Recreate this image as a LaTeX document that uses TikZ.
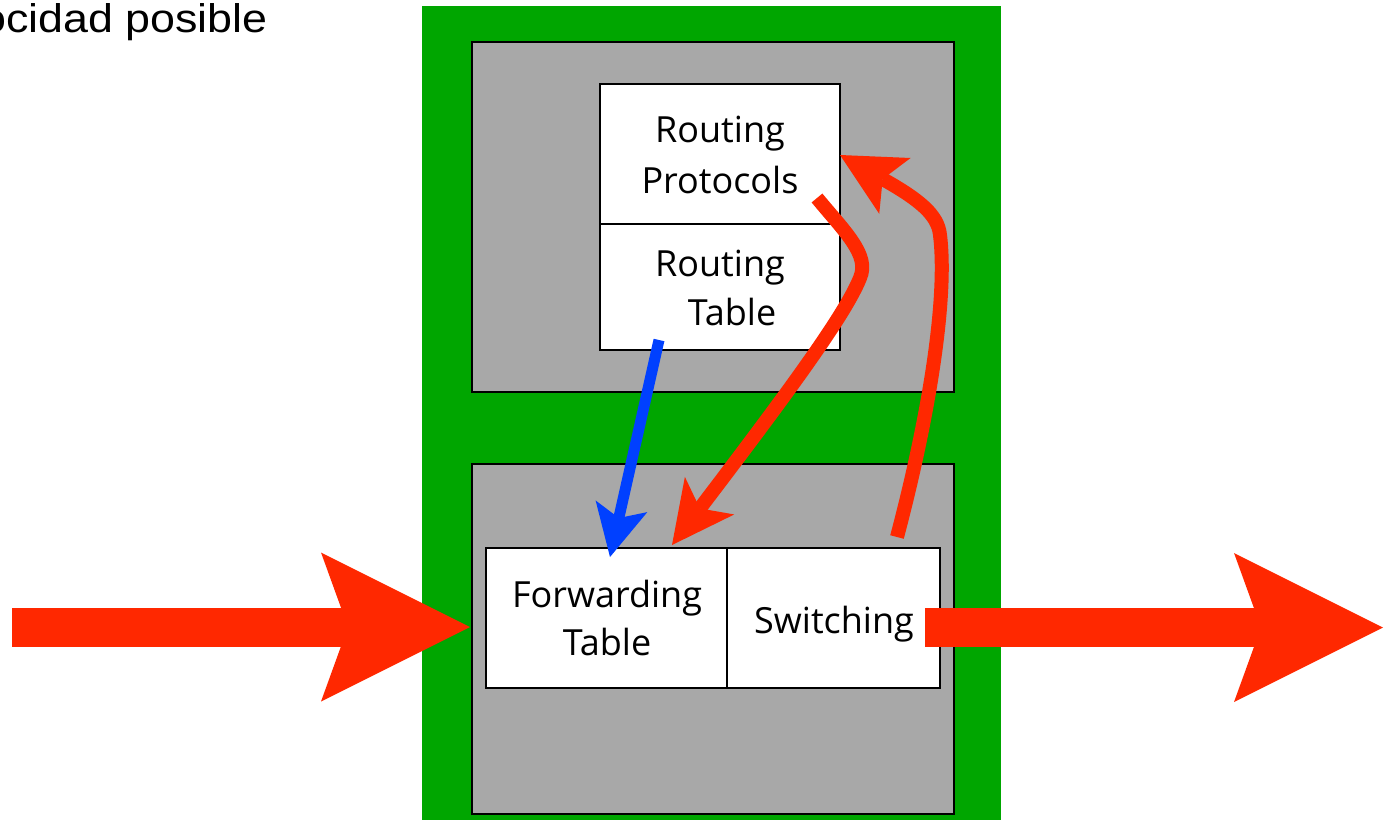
\documentclass[tikz,border=0pt]{standalone}
\usepackage{fontspec}
\setmainfont{Open Sans}
\newfontfamily\arialfont[FakeStretch=1.12]{Liberation Sans}
\usetikzlibrary{arrows.meta}
\definecolor{rred}{RGB}{255,40,0}
\definecolor{ggreen}{RGB}{0,166,0}
\definecolor{ggray}{RGB}{168,168,168}
\definecolor{bblue}{RGB}{0,64,255}
\begin{document}
\begin{tikzpicture}[x=1pt,y=-1pt,
  frame/.style={draw=black, line width=1.5pt, anchor=north west, inner sep=0pt, outer sep=0pt},
  lbl/.style={font=\fontsize{36}{43}\selectfont, anchor=base, inner sep=0pt},
  bigarrow/.style={draw=rred, line width=39pt, -{Stealth[length=149pt, width=149pt, inset=27pt, line width=0pt]}},
  redarrowA/.style={draw=rred, line width=14pt, -{Stealth[length=62pt, width=62pt, inset=16pt, line width=0pt]}},
  redarrowB/.style={draw=rred, line width=14pt, -{Stealth[length=63pt, width=64pt, inset=14pt, line width=0pt]}},
  bluearrow/.style={draw=bblue, line width=11pt, -{Stealth[length=52pt, width=53pt, inset=12pt, line width=0pt]}}]
\useasboundingbox (0,0) rectangle (1385,820);
% containers
\node[fill=ggreen, anchor=north west, minimum width=579pt, minimum height=814pt, inner sep=0pt] (green) at (422,6) {};
\node[frame, fill=ggray, minimum width=482pt, minimum height=350pt] (top) at (472,42) {};
\node[frame, fill=ggray, minimum width=482pt, minimum height=350pt] (bot) at (472,464) {};
% boxes
\node[frame, fill=white, minimum width=240pt, minimum height=140pt] (RP) at (600,84) {};
\node[frame, fill=white, minimum width=240pt, minimum height=126pt] (RT) at (600,224) {};
\node[frame, fill=white, minimum width=241pt, minimum height=140pt] (FT) at (486,548) {};
\node[frame, fill=white, minimum width=213pt, minimum height=140pt] (SW) at (727,548) {};
% labels
\node[lbl] (rp1) at (720,142) {Routing};
\node[lbl] (rp2) at (720,193) {Protocols};
\node[lbl] (rt1) at (720,276) {Routing};
\node[lbl] (rt2) at (732,325) {Table};
\node[lbl] (ft1) at (607,607) {Forwarding};
\node[lbl] (ft2) at (607,655) {Table};
\node[lbl] (sw) at (834,633) {Switching};
\node[font=\arialfont\fontsize{40}{48}\selectfont, anchor=base west, inner sep=0pt] (title) at (-19,32) {ocidad posible};
% connectors
\coordinate (inL) at (12,627);
\coordinate (tipL) at (470,627);
\coordinate (outR0) at (925,627.5);
\coordinate (outR) at (1383,627.5);
\coordinate (bS) at (659,340);
\coordinate (bE) at (610,557);
\coordinate (aS) at (817,198);
\coordinate (aE) at (672,545);
\coordinate (cS) at (897,537);
\coordinate (cE) at (840,155);
\draw[bigarrow] (inL) -- (tipL);
\draw[bigarrow] (outR0) -- (outR);
\draw[bluearrow] (bS) -- (bE);
\draw[redarrowA] (aS) .. controls (845,232) and (870,255) .. (860,278) .. controls (845,315) and (790,390) .. (aE);
\draw[redarrowB] (cS) .. controls (928,420) and (948,300) .. (940,235) .. controls (938,215) and (920,200) .. (cE);
\end{tikzpicture}
\end{document}
